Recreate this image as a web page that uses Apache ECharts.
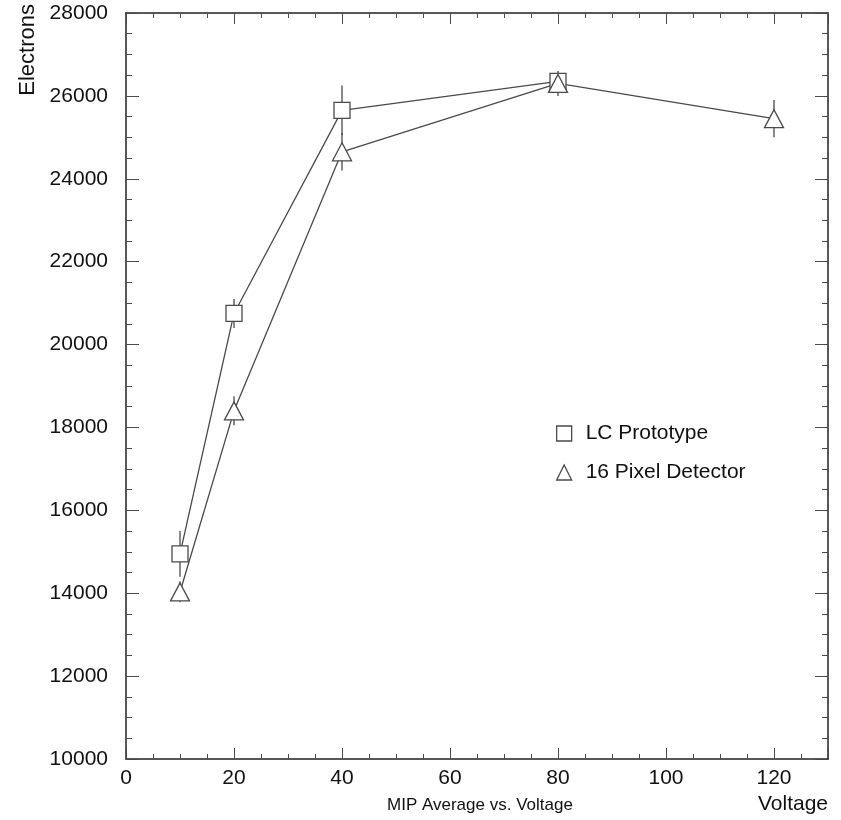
<!DOCTYPE html>
<html>
<head>
<meta charset="utf-8">
<script src="https://cdn.jsdelivr.net/npm/echarts@6/dist/echarts.min.js"></script>
<style>
  html, body { margin: 0; padding: 0; background: #fff; }
  #chart { width: 841px; height: 820px; }
</style>
</head>
<body>
<div id="chart"></div>
<script>
// voltage points and measured electrons (with error half-widths)
const lcVoltage = [10, 20, 40, 80];
const lcElectrons = [14950, 20750, 25650, 26350];
const lcError = [550, 350, 600, 200];

const pixVoltage = [10, 20, 40, 80, 120];
const pixElectrons = [14030, 18400, 24650, 26300, 25450];
const pixError = [250, 350, 450, 300, 450];

const seriesNames = ['LC Prototype', '16 Pixel Detector'];

const ink = '#4a4a4a';
const font = 'Liberation Sans, Arial, sans-serif';

const chart = echarts.init(document.getElementById('chart'));

function pairs(xs, ys) {
  return xs.map((x, i) => [x, ys[i]]);
}
function errData(xs, ys, es) {
  return xs.map((x, i) => [x, ys[i] - es[i], ys[i] + es[i]]);
}
function errBars(params, api) {
  const lo = api.coord([api.value(0), api.value(1)]);
  const hi = api.coord([api.value(0), api.value(2)]);
  return {
    type: 'line',
    shape: { x1: lo[0], y1: lo[1], x2: hi[0], y2: hi[1] },
    style: { stroke: ink, lineWidth: 1.3 }
  };
}

const axisCommon = {
  min: 0,
  max: 130,
  interval: 20,
  axisLine: { show: true, onZero: false, lineStyle: { color: '#222', width: 1.5 } },
  axisTick: { show: true, inside: true, length: 11, lineStyle: { color: ink } },
  minorTick: { show: true, splitNumber: 4, length: 5, lineStyle: { color: ink } },
  splitLine: { show: false }
};
const yCommon = {
  min: 10000,
  max: 28000,
  interval: 2000,
  axisLine: { show: true, onZero: false, lineStyle: { color: '#222', width: 1.5 } },
  axisTick: { show: true, inside: true, length: 13, lineStyle: { color: ink } },
  minorTick: { show: true, splitNumber: 4, length: 6, lineStyle: { color: ink } },
  splitLine: { show: false }
};

const option = {
  animation: false,
  grid: { left: 126, right: 13, top: 13, bottom: 61 },
  xAxis: [
    Object.assign({}, axisCommon, {
      type: 'value',
      position: 'bottom',
      axisLabel: { color: '#111', fontSize: 21, fontFamily: font, margin: 9, showMaxLabel: false }
    }),
    Object.assign({}, axisCommon, {
      type: 'value',
      position: 'top',
      axisLabel: { show: false }
    })
  ],
  yAxis: [
    Object.assign({}, yCommon, {
      type: 'value',
      position: 'left',
      axisLabel: { color: '#111', fontSize: 21, fontFamily: font, margin: 18, formatter: v => String(v) }
    }),
    Object.assign({}, yCommon, {
      type: 'value',
      position: 'right',
      axisLabel: { show: false }
    })
  ],
  legend: {
    orient: 'vertical',
    left: 551,
    top: 418,
    itemGap: 18,
    itemWidth: 15,
    itemHeight: 15,
    textStyle: { color: '#111', fontSize: 21, fontFamily: font, padding: [0, 0, 0, 9] },
    data: [
      { name: seriesNames[0], icon: 'rect', itemStyle: { color: '#fff', borderColor: ink, borderWidth: 1.3 } },
      { name: seriesNames[1], icon: 'triangle', itemStyle: { color: '#fff', borderColor: ink, borderWidth: 1.3 } }
    ]
  },
  graphic: [
    {
      type: 'text', left: 17, top: 4, rotation: Math.PI / 2,
      style: { text: 'Electrons', fontSize: 22, fontFamily: font, fill: '#111' }
    },
    {
      type: 'text', right: 13, top: 794,
      style: { text: 'Voltage', fontSize: 21, fontFamily: font, fill: '#111' }
    },
    {
      type: 'text', left: 387, top: 797,
      style: { text: 'MIP Average vs. Voltage', fontSize: 17, fontFamily: font, fill: '#111' }
    }
  ],
  series: [
    {
      type: 'custom',
      z: 1,
      silent: true,
      renderItem: errBars,
      data: errData(lcVoltage, lcElectrons, lcError)
    },
    {
      type: 'custom',
      z: 1,
      silent: true,
      renderItem: errBars,
      data: errData(pixVoltage, pixElectrons, pixError)
    },
    {
      name: seriesNames[0],
      type: 'line',
      z: 3,
      symbol: 'rect',
      symbolSize: 16,
      showAllSymbol: true,
      lineStyle: { color: ink, width: 1.3 },
      itemStyle: { color: '#fff', borderColor: ink, borderWidth: 1.3 },
      data: pairs(lcVoltage, lcElectrons)
    },
    {
      name: seriesNames[1],
      type: 'line',
      z: 3,
      symbol: 'triangle',
      symbolSize: [19, 18],
      showAllSymbol: true,
      lineStyle: { color: ink, width: 1.3 },
      itemStyle: { color: '#fff', borderColor: ink, borderWidth: 1.3 },
      data: pairs(pixVoltage, pixElectrons)
    }
  ]
};

chart.setOption(option);
</script>
</body>
</html>
